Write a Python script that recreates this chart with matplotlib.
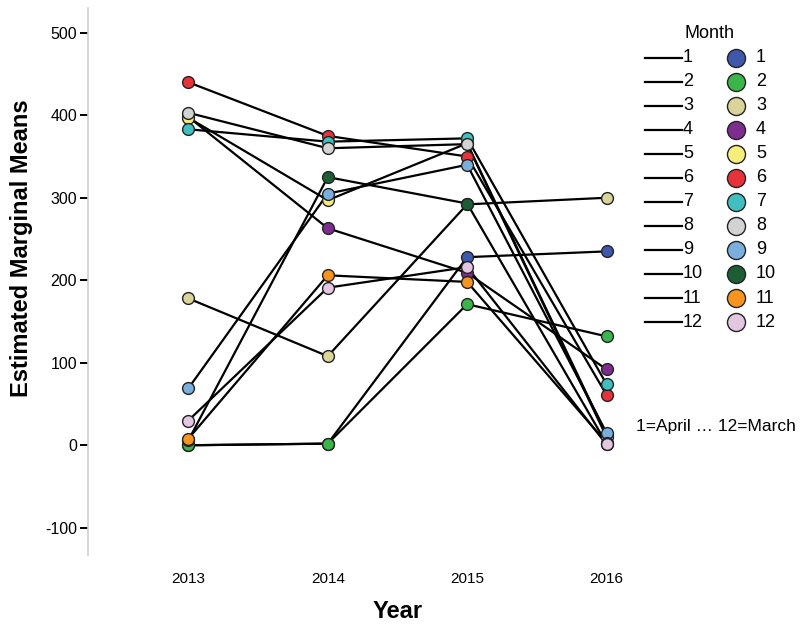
import matplotlib.pyplot as plt
from matplotlib.lines import Line2D

plt.rcParams['font.family'] = ['Liberation Sans', 'DejaVu Sans']
plt.rcParams['axes.unicode_minus'] = False

# Estimated marginal means per month
years = [2013, 2014, 2015, 2016]
months = ['1', '2', '3', '4', '5', '6', '7', '8', '9', '10', '11', '12']
m1 = [0, 2, 228, 235]
m2 = [0, 2, 171, 132]
m3 = [178, 108, 292, 300]
m4 = [398, 263, 209, 92]
m5 = [397, 297, 366, 12]
m6 = [440, 375, 350, 61]
m7 = [383, 368, 372, 74]
m8 = [403, 360, 365, 10]
m9 = [69, 305, 340, 15]
m10 = [6, 325, 293, 2]
m11 = [8, 206, 198, 3]
m12 = [30, 191, 216, 1]
series = [m1, m2, m3, m4, m5, m6, m7, m8, m9, m10, m11, m12]

colors = ['#3E58AC', '#3AB54A', '#D8D49A', '#7E2C8E', '#F6EE7A', '#E8323A',
          '#3FBFBF', '#D3D3D3', '#7AAEDD', '#1C5E34', '#F7941D', '#E3C6E1']

W, H = 803, 624
fig = plt.figure(figsize=(W / 100, H / 100), dpi=100)
ax = fig.add_axes([88 / W, 69 / H, 552 / W, 547 / H])

for i, vals in enumerate(series):
    ax.plot(years, vals, color='black', lw=1.6, zorder=2)
for i, vals in enumerate(series):
    ax.plot(years, vals, 'o', color=colors[i], markeredgecolor='#222222',
            markeredgewidth=1.0, markersize=8.5, zorder=3 + i, linestyle='none')

ax.set_xlim(2012.28, 2016.24)
ax.set_ylim(-133, 530)
ax.set_xticks(years)
ax.set_xticklabels([str(y) for y in years])
ax.set_yticks([-100, 0, 100, 200, 300, 400, 500])

for s in ['top', 'right', 'bottom']:
    ax.spines[s].set_visible(False)
ax.spines['left'].set_color('#cfcfcf')
ax.spines['left'].set_linewidth(1.2)

ax.tick_params(axis='x', length=0, pad=12, labelsize=11)
ax.tick_params(axis='y', length=6, width=1.4, color='black', pad=2, labelsize=11.5)

ax.set_ylabel('Estimated Marginal Means', fontsize=17, fontweight='bold')
ax.yaxis.set_label_coords(-0.10, 0.56)
ax.set_xlabel('Year', fontsize=17, fontweight='bold')
ax.xaxis.set_label_coords(0.56, -0.082)

# legend drawn by hand: line column and marker column
fig.text(685 / W, 1 - 33 / H, 'Month', fontsize=13, va='center', ha='left')
for i, m in enumerate(months):
    yf = 1 - (58 + i * 24) / H
    fig.add_artist(Line2D([645 / W, 682 / W], [yf, yf], color='black', lw=1.6,
                          transform=fig.transFigure))
    fig.text(683 / W, yf, m, fontsize=13, va='center', ha='left')
    fig.add_artist(Line2D([736 / W], [yf], marker='o', markersize=13,
                          markerfacecolor=colors[i], markeredgecolor='#222222',
                          markeredgewidth=1.0, linestyle='none',
                          transform=fig.transFigure))
    fig.text(756 / W, yf, m, fontsize=13, va='center', ha='left')

fig.text(636 / W, 1 - 427 / H, '1=April \u2026 12=March', fontsize=12.5, va='center')

fig.savefig('out.png', dpi=100)
